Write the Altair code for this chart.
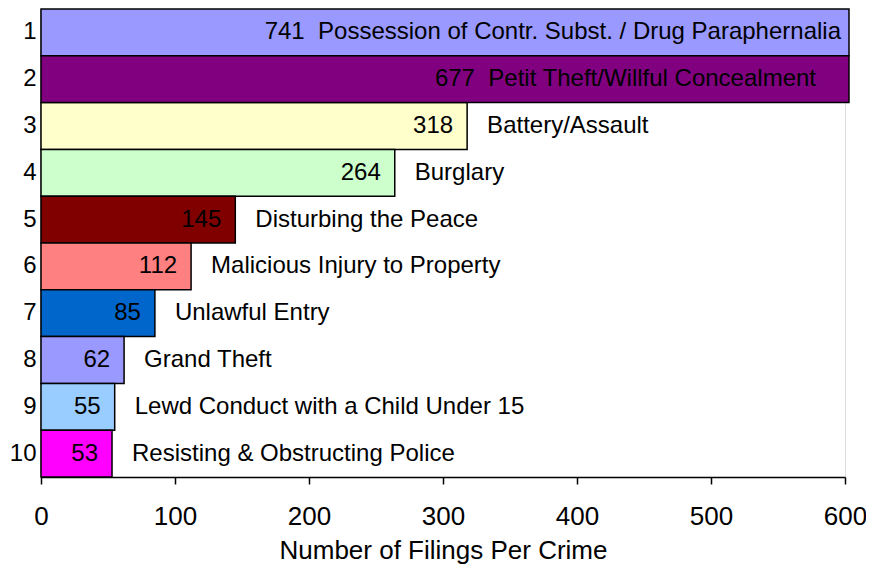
import altair as alt
import pandas as pd

ranks = [1, 2, 3, 4, 5, 6, 7, 8, 9, 10]
values = [741, 677, 318, 264, 145, 112, 85, 62, 55, 53]
crimes = [
    "Possession of Contr. Subst. / Drug Paraphernalia",
    "Petit Theft/Willful Concealment",
    "Battery/Assault",
    "Burglary",
    "Disturbing the Peace",
    "Malicious Injury to Property",
    "Unlawful Entry",
    "Grand Theft",
    "Lewd Conduct with a Child Under 15",
    "Resisting & Obstructing Police",
]
colors = ["#9999FF", "#800080", "#FFFFCC", "#CCFFCC", "#800000",
          "#FF8080", "#0066CC", "#9999FF", "#99CCFF", "#FF00FF"]

df = pd.DataFrame({"rank": ranks, "value": values, "crime": crimes, "color": colors})
df["combo"] = df["value"].astype(str) + "\u00a0 " + df["crime"]

FONT = "Liberation Sans"

base = alt.Chart(df)
y = alt.Y("rank:O", sort=ranks, title=None,
          scale=alt.Scale(paddingInner=0, paddingOuter=0),
          axis=alt.Axis(ticks=False, labelFontSize=24, labelPadding=5,
                        labelColor="black", domainColor="black", domainWidth=1.5,
                        labelFont=FONT))
x = alt.X("value:Q", title="Number of Filings Per Crime",
          scale=alt.Scale(domain=[0, 600], clamp=True, nice=False),
          stack=None,
          axis=alt.Axis(values=[0, 100, 200, 300, 400, 500, 600], grid=False,
                        labelFlush=False, labelOverlap=False,
                        tickSize=7, tickColor="black", domainColor="black",
                        domainWidth=1.5, tickWidth=1.5,
                        labelFontSize=26, labelPadding=19, labelColor="black",
                        labelFont=FONT, titleFont=FONT, titleFontSize=26,
                        titleFontWeight="normal", titleColor="black",
                        titleBaseline="alphabetic", titleY=81))

bars_in = base.transform_filter("datum.value <= 600").mark_bar(
    stroke="black", strokeWidth=1.5).encode(
    x=x, y=y, color=alt.Color("color:N", scale=None))
bars_out = base.transform_filter("datum.value > 600").mark_bar(
    stroke="black", strokeWidth=1.5, xOffset=4, x2Offset=0).encode(
    x=x, y=y, color=alt.Color("color:N", scale=None))

val_text = base.transform_filter("datum.value <= 600").mark_text(
    align="right", baseline="middle", dx=-14, fontSize=24, font=FONT,
    color="black").encode(x=x, y=y, text="value:Q")
name_text = base.transform_filter("datum.value <= 600").mark_text(
    align="left", baseline="middle", dx=20, fontSize=24, font=FONT,
    color="black").encode(x=x, y=y, text="crime:N")
combo1 = base.transform_filter("datum.rank == 1").mark_text(
    align="right", baseline="middle", dx=-4, fontSize=24, font=FONT,
    color="black").encode(x=x, y=y, text="combo:N")
combo2 = base.transform_filter("datum.rank == 2").mark_text(
    align="right", baseline="middle", dx=-29, fontSize=24, font=FONT,
    color="black").encode(x=x, y=y, text="combo:N")

chart = alt.layer(bars_in, bars_out, val_text, name_text, combo1, combo2).properties(
    width=804, height=468,
    autosize=alt.AutoSizeParams(type="none"),
    padding={"left": 33, "top": 1, "right": 21, "bottom": 88},
).configure_view(
    fill="#C0C0C0", stroke="#808080", strokeWidth=1.5
).configure(background="white")

chart.save("out.html", embed_options={"renderer": "svg", "actions": False})
